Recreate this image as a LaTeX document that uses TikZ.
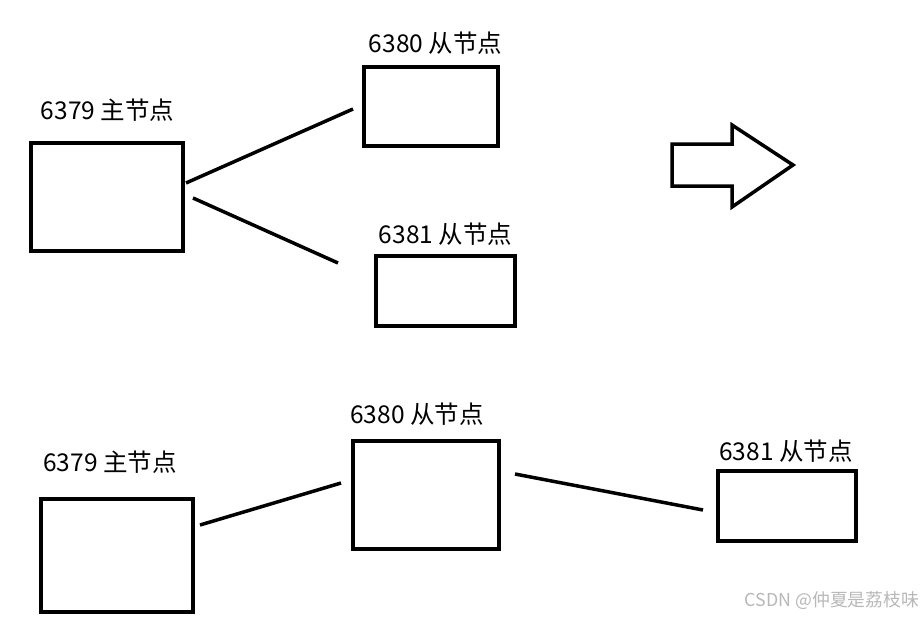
\documentclass[tikz,border=0pt]{standalone}
\usepackage{fontspec}
\newfontfamily\cjk{Noto Sans CJK SC}
\begin{document}
\begin{tikzpicture}[x=1pt,y=-1pt,
  box/.style={draw=black,line width=3.5pt,inner sep=0pt,fill=white},
  lbl/.style={font=\cjk\fontsize{24.5}{28}\selectfont,inner sep=0pt},
  conn/.style={line width=3.5pt,draw=black}]
\useasboundingbox[fill=white] (0,0) rectangle (923,618);
% top group
\node[box,minimum width=152pt,minimum height=108pt] (a) at (107,197) {};
\node[box,minimum width=134pt,minimum height=79pt] (b) at (431,106.5) {};
\node[box,minimum width=139pt,minimum height=70pt] (c) at (445.5,291) {};
\node[lbl] (la) at (107.5,110) {6379 主节点};
\node[lbl] (lb) at (435.5,43) {6380 从节点};
\node[lbl] (lc) at (445.5,234) {6381 从节点};
\coordinate (ab1) at (186,183);
\coordinate (ab2) at (353,109);
\coordinate (ac1) at (193,198);
\coordinate (ac2) at (338,263);
\draw[conn] (ab1) -- (ab2);
\draw[conn] (ac1) -- (ac2);
% big arrow
\draw[line width=3.5pt,line join=miter] (672,144) -- (732,144) -- (732,125) -- (793,165) -- (732,207) -- (732,186) -- (672,186) -- cycle;
% bottom group
\node[box,minimum width=152pt,minimum height=113pt] (d) at (117,555.5) {};
\node[box,minimum width=146pt,minimum height=108pt] (e) at (426,495) {};
\node[box,minimum width=138pt,minimum height=70pt] (f) at (787,506) {};
\node[lbl] (ld) at (110,462) {6379 主节点};
\node[lbl] (le) at (417,414) {6380 从节点};
\node[lbl] (lf) at (786,451) {6381 从节点};
\coordinate (de1) at (200,525);
\coordinate (de2) at (341,483);
\coordinate (ef1) at (515,474);
\coordinate (ef2) at (703,510);
\draw[conn] (de1) -- (de2);
\draw[conn] (ef1) -- (ef2);
% watermark
\node[font=\cjk\fontsize{17.8}{20}\selectfont,text=black!28,inner sep=0pt] (wm) at (832,601) {CSDN @仲夏是荔枝味};
\end{tikzpicture}
\end{document}
